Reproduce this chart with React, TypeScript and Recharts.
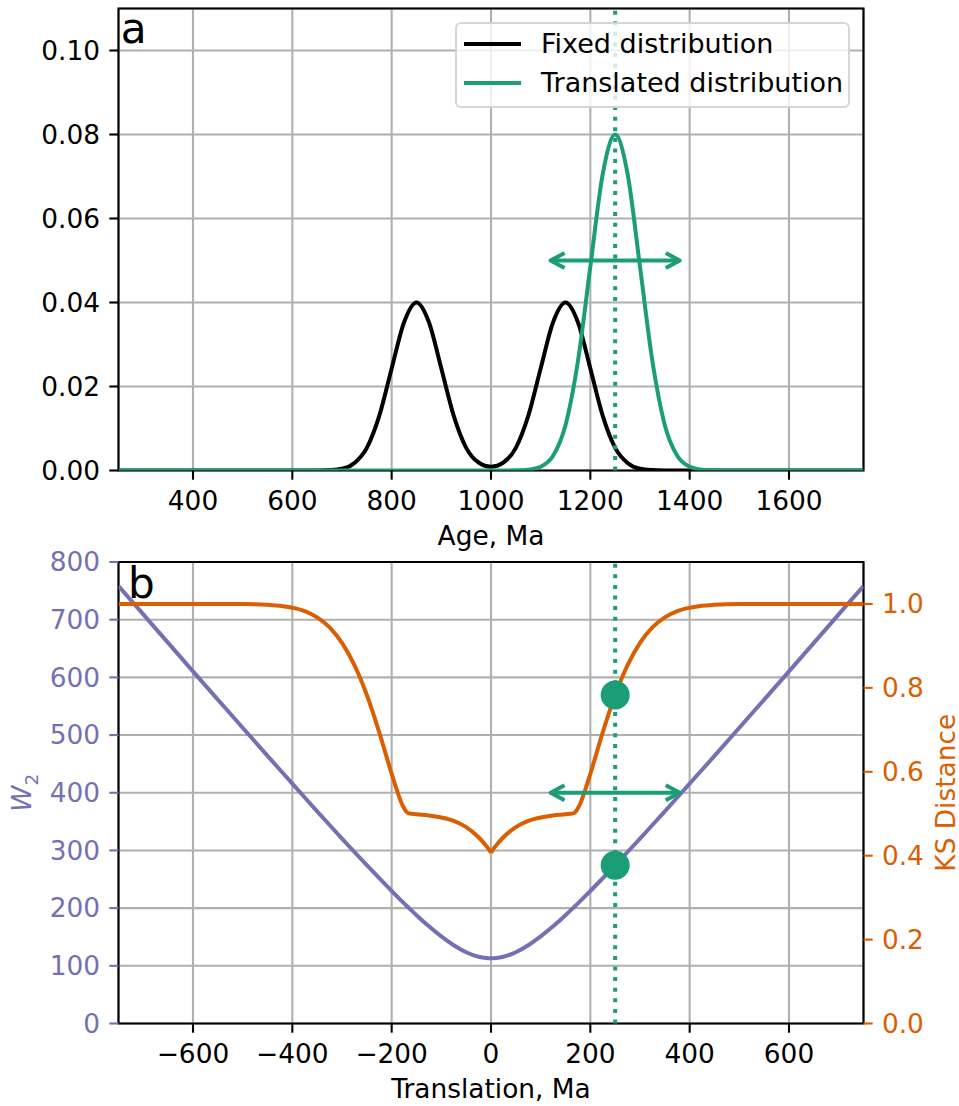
import React from 'react';
import {
  ComposedChart,
  Line,
  XAxis,
  YAxis,
  CartesianGrid,
  ReferenceLine,
  ReferenceArea,
  Legend,
  Scatter,
  Label,
} from 'recharts';

const FONT = 'DejaVu Sans';
const GREEN = '#1b9e77';
const ORANGE = '#d95f02';
const PURPLE = '#7570b3';
const GRID = '#b0b0b0';
const FS = 26.4;

// ---------- panel a : age distributions ----------
const ages = [
  250, 600, 625, 650, 675, 700, 725, 750, 775, 800, 825, 850, 875, 900, 925, 950, 975, 1000,
  1025, 1050, 1075, 1100, 1125, 1150, 1175, 1200, 1225, 1250, 1275, 1300, 1325, 1350, 1375,
  1400, 1425, 1450, 1475, 1500, 1750,
];
const fixedDensity = [
  0, 0, 0, 0.00001, 0.0001, 0.0004, 0.0018, 0.0054, 0.013, 0.0243, 0.0353, 0.04, 0.0353, 0.0243,
  0.013, 0.0054, 0.0019, 0.0009, 0.0019, 0.0054, 0.013, 0.0243, 0.0353, 0.04, 0.0353, 0.0243,
  0.013, 0.0054, 0.0018, 0.0004, 0.0001, 0.00001, 0, 0, 0, 0, 0, 0, 0,
];
const translatedDensity = [
  0, 0, 0, 0, 0, 0, 0, 0, 0, 0, 0, 0, 0, 0, 0, 0, 0, 0, 0, 0.00003, 0.0002, 0.0009, 0.0035,
  0.0108, 0.026, 0.0485, 0.0706, 0.08, 0.0706, 0.0485, 0.026, 0.0108, 0.0035, 0.0009, 0.0002,
  0.00003, 0, 0, 0,
];
const ageDomain = [250, 1750];
const ageTicks = [400, 600, 800, 1000, 1200, 1400, 1600];
const densityDomain = [0, 0.11];
const densityTicks = [0, 0.02, 0.04, 0.06, 0.08, 0.1];
const translatedPeak = 1250;
const arrowAges = [1120, 1380];
const arrowDensity = 0.05;

// ---------- panel b : distances vs translation ----------
const translations = [
  -750, -700, -650, -600, -550, -500, -450, -425, -400, -375, -350, -325, -300, -275, -250, -225,
  -200, -190, -180, -175, -170, -165, -150, -125, -100, -75, -50, -25, -10, -5, 0, 5, 10, 25, 50,
  75, 100, 125, 150, 165, 170, 175, 180, 190, 200, 225, 250, 275, 300, 325, 350, 375, 400, 425,
  450, 500, 550, 600, 650, 700, 750,
];
const w2Values = [
  758.5, 709.1, 659.7, 610.5, 561.5, 512.6, 464.0, 439.8, 415.7, 391.7, 367.8, 344.1, 320.6,
  297.3, 274.4, 251.8, 229.7, 221.1, 212.5, 208.3, 204.1, 200.0, 187.8, 168.5, 150.9, 135.6,
  123.6, 115.7, 113.4, 113.1, 113.0, 113.1, 113.4, 115.7, 123.6, 135.6, 150.9, 168.5, 187.8,
  200.0, 204.1, 208.3, 212.5, 221.1, 229.7, 251.8, 274.4, 297.3, 320.6, 344.1, 367.8, 391.7,
  415.7, 439.8, 464.0, 512.6, 561.5, 610.5, 659.7, 709.1, 758.5,
];
const ksValues = [
  1.0, 1.0, 1.0, 1.0, 1.0, 0.9999, 0.998, 0.9958, 0.991, 0.983, 0.968, 0.944, 0.907, 0.854,
  0.783, 0.694, 0.595, 0.558, 0.525, 0.513, 0.5046, 0.5008, 0.4987, 0.496, 0.491, 0.483, 0.468,
  0.444, 0.424, 0.416, 0.407, 0.416, 0.424, 0.444, 0.468, 0.483, 0.491, 0.496, 0.4987, 0.5008,
  0.5046, 0.513, 0.525, 0.558, 0.595, 0.694, 0.783, 0.854, 0.907, 0.944, 0.968, 0.983, 0.991,
  0.9958, 0.998, 0.9999, 1.0, 1.0, 1.0, 1.0, 1.0,
];
const translationDomain = [-750, 750];
const translationTicks = [-600, -400, -200, 0, 200, 400, 600];
const w2Domain = [0, 800];
const w2Ticks = [0, 100, 200, 300, 400, 500, 600, 700, 800];
const ksDomain = [0, 1.1];
const ksTicks = [0, 0.2, 0.4, 0.6, 0.8, 1.0];
const chosenTranslation = 250;
const chosenW2 = 274.4;
const chosenKS = 0.783;
const arrowTranslations = [120, 380];
const arrowW2 = 400;

// ---------- rows built from the arrays ----------
const densityRows = ages.map((age, i) => ({
  age,
  fixed: fixedDensity[i],
  translated: translatedDensity[i],
}));
const arrowRowsA = arrowAges.map((age) => ({ age, arrow: arrowDensity }));

const distanceRows = translations.map((t, i) => ({
  t,
  w2: w2Values[i],
  ksLeft: t <= 0 ? ksValues[i] : null,
  ksRight: t >= 0 ? ksValues[i] : null,
}));
const arrowRowsB = arrowTranslations.map((t) => ({ t, arrow: arrowW2 }));
const w2MarkerRows = [{ t: chosenTranslation, w2: chosenW2 }];
const ksMarkerRows = [{ t: chosenTranslation, ks: chosenKS }];

const minus = (v: number) => (v < 0 ? '\u2212' + Math.abs(v) : String(v));

const ArrowHead = (props: any) => {
  const { cx, cy, index } = props;
  if (cx == null || cy == null) return <g key={index} />;
  const dir = index === 0 ? 1 : -1;
  return (
    <path
      key={index}
      d={`M${cx + dir * 14},${cy - 7.5} L${cx},${cy} L${cx + dir * 14},${cy + 7.5}`}
      fill="none"
      stroke={GREEN}
      strokeWidth={4}
      strokeLinejoin="round"
      strokeLinecap="butt"
    />
  );
};

const BigDot = (props: any) => {
  const { cx, cy } = props;
  return <circle cx={cx} cy={cy} r={14.5} fill={GREEN} />;
};

const LegendBox = () => (
  <div
    style={{
      position: 'relative',
      boxSizing: 'border-box',
      width: 395,
      height: 86,
      border: '2px solid rgba(204,204,204,0.8)',
      borderRadius: 6,
      background: 'rgba(255,255,255,0.8)',
      fontFamily: FONT,
      fontSize: 27,
      color: '#000',
    }}
  >
    {[
      { name: 'Fixed distribution', color: '#000', cy: 20 },
      { name: 'Translated distribution', color: GREEN, cy: 59 },
    ].map((r) => (
      <div key={r.name}>
        <div
          style={{
            position: 'absolute',
            left: 7,
            top: r.cy - 2,
            width: 57,
            height: 4,
            background: r.color,
          }}
        />
        <div
          style={{
            position: 'absolute',
            left: 84,
            top: r.cy - 16,
            height: 32,
            lineHeight: '32px',
            whiteSpace: 'nowrap',
          }}
        >
          {r.name}
        </div>
      </div>
    ))}
  </div>
);

const PanelLabel = (text: string, dx: number, dy: number) => (props: any) => {
  const vb = props.viewBox || { x: 118.5, y: 8.5 };
  return (
    <text x={vb.x + dx} y={vb.y + dy} fontSize={42.2} fill="#000" fontFamily={FONT}>
      {text}
    </text>
  );
};

const W2Label = (props: any) => {
  const vb = props.viewBox || { x: 0, y: 17, width: 118.5, height: 461.5 };
  const cx = vb.x + 31;
  const cy = vb.y + vb.height / 2;
  return (
    <text
      x={cx}
      y={cy}
      transform={`rotate(-90 ${cx} ${cy})`}
      textAnchor="middle"
      fill={PURPLE}
      fontFamily={FONT}
      fontSize={FS}
    >
      <tspan fontStyle="italic">W</tspan>
      <tspan fontSize={18.5} dy={7}>
        2
      </tspan>
    </text>
  );
};

const KSLabel = (props: any) => {
  const vb = props.viewBox || { x: 863.5, y: 17, width: 95.5, height: 461.5 };
  const cx = vb.x + 91;
  const cy = vb.y + vb.height / 2;
  return (
    <text
      x={cx}
      y={cy}
      transform={`rotate(-90 ${cx} ${cy})`}
      textAnchor="middle"
      fill={ORANGE}
      fontFamily={FONT}
      fontSize={FS}
    >
      KS Distance
    </text>
  );
};

export default function App() {
  return (
    <div
      style={{
        position: 'absolute',
        left: 0,
        top: 0,
        width: 959,
        height: 1106,
        background: '#fff',
        fontFamily: FONT,
      }}
    >
      <div style={{ position: 'absolute', left: 0, top: 0 }}>
        <ComposedChart
          width={959}
          height={560}
          data={densityRows}
          margin={{ top: 8.5, right: 95.5, bottom: 0, left: 0 }}
        >
          <CartesianGrid stroke={GRID} strokeWidth={2.1} />
          <XAxis
            dataKey="age"
            type="number"
            domain={ageDomain}
            ticks={ageTicks}
            interval={0}
            allowDataOverflow
            height={89.5}
            axisLine={false}
            tickSize={9.2}
            tickMargin={12}
            tickLine={{ stroke: '#000', strokeWidth: 2.1 }}
            tick={{ fill: '#000', fontSize: FS }}
          >
            <Label value="Age, Ma" position="insideBottom" offset={15.5} fill="#000" fontSize={FS} />
          </XAxis>
          <YAxis
            type="number"
            domain={densityDomain}
            ticks={densityTicks}
            interval={0}
            allowDataOverflow
            width={118.5}
            axisLine={false}
            tickSize={9.2}
            tickMargin={9.2}
            tickLine={{ stroke: '#000', strokeWidth: 2.1 }}
            tick={{ fill: '#000', fontSize: FS }}
            tickFormatter={(v: number) => v.toFixed(2)}
          />
          <Line
            dataKey="fixed"
            type="monotone"
            stroke="#000"
            strokeWidth={4}
            dot={false}
            activeDot={false}
            isAnimationActive={false}
          />
          <Line
            dataKey="translated"
            type="monotone"
            stroke={GREEN}
            strokeWidth={4}
            dot={false}
            activeDot={false}
            isAnimationActive={false}
          />
          <ReferenceLine x={translatedPeak} stroke={GREEN} strokeWidth={4} strokeDasharray="4 6.6" />
          <Line
            data={arrowRowsA}
            dataKey="arrow"
            type="linear"
            stroke={GREEN}
            strokeWidth={4}
            dot={ArrowHead}
            activeDot={false}
            isAnimationActive={false}
          />
          <ReferenceArea
            x1={ageDomain[0]}
            x2={ageDomain[1]}
            y1={densityDomain[0]}
            y2={densityDomain[1]}
            fill="none"
            fillOpacity={0}
            stroke="#000"
            strokeWidth={2.1}
            label={PanelLabel('a', 2.3, 34.2)}
          />
          <Legend
            layout="horizontal"
            verticalAlign="middle"
            align="center"
            content={() => <LegendBox />}
            wrapperStyle={{ position: 'absolute', left: 455, top: 22, width: 395, height: 86 }}
          />
        </ComposedChart>
      </div>

      <div style={{ position: 'absolute', left: 0, top: 545 }}>
        <ComposedChart
          width={959}
          height={561}
          data={distanceRows}
          margin={{ top: 17, right: 0, bottom: 0, left: 0 }}
        >
          <CartesianGrid stroke={GRID} strokeWidth={2.1} yAxisId="left" />
          <XAxis
            dataKey="t"
            type="number"
            domain={translationDomain}
            ticks={translationTicks}
            interval={0}
            allowDataOverflow
            height={82.5}
            axisLine={false}
            tickSize={9.2}
            tickMargin={12}
            tickLine={{ stroke: '#000', strokeWidth: 2.1 }}
            tick={{ fill: '#000', fontSize: FS }}
            tickFormatter={minus}
          >
            <Label
              value="Translation, Ma"
              position="insideBottom"
              offset={7.7}
              fill="#000"
              fontSize={FS}
            />
          </XAxis>
          <YAxis
            yAxisId="left"
            type="number"
            domain={w2Domain}
            ticks={w2Ticks}
            interval={0}
            allowDataOverflow
            width={118.5}
            axisLine={false}
            tickSize={9.2}
            tickMargin={9.2}
            tickLine={{ stroke: PURPLE, strokeWidth: 2.1 }}
            tick={{ fill: PURPLE, fontSize: FS }}
          >
            <Label content={W2Label} />
          </YAxis>
          <YAxis
            yAxisId="right"
            orientation="right"
            type="number"
            domain={ksDomain}
            ticks={ksTicks}
            interval={0}
            allowDataOverflow
            width={95.5}
            axisLine={false}
            tickSize={9.2}
            tickMargin={9.2}
            tickLine={{ stroke: ORANGE, strokeWidth: 2.1 }}
            tick={{ fill: ORANGE, fontSize: FS }}
            tickFormatter={(v: number) => v.toFixed(1)}
          >
            <Label content={KSLabel} />
          </YAxis>
          <Scatter
            yAxisId="left"
            data={w2MarkerRows}
            dataKey="w2"
            shape={BigDot}
            isAnimationActive={false}
          />
          <Scatter
            yAxisId="right"
            data={ksMarkerRows}
            dataKey="ks"
            shape={BigDot}
            isAnimationActive={false}
          />
          <Line
            yAxisId="left"
            dataKey="w2"
            type="monotone"
            stroke={PURPLE}
            strokeWidth={4}
            dot={false}
            activeDot={false}
            isAnimationActive={false}
          />
          <Line
            yAxisId="right"
            dataKey="ksLeft"
            type="monotone"
            stroke={ORANGE}
            strokeWidth={4}
            dot={false}
            activeDot={false}
            isAnimationActive={false}
          />
          <Line
            yAxisId="right"
            dataKey="ksRight"
            type="monotone"
            stroke={ORANGE}
            strokeWidth={4}
            dot={false}
            activeDot={false}
            isAnimationActive={false}
          />
          <ReferenceLine
            yAxisId="left"
            x={chosenTranslation}
            stroke={GREEN}
            strokeWidth={4}
            strokeDasharray="4 6.6"
          />
          <Line
            yAxisId="left"
            data={arrowRowsB}
            dataKey="arrow"
            type="linear"
            stroke={GREEN}
            strokeWidth={4}
            dot={ArrowHead}
            activeDot={false}
            isAnimationActive={false}
          />
          <ReferenceArea
            yAxisId="left"
            x1={translationDomain[0]}
            x2={translationDomain[1]}
            y1={w2Domain[0]}
            y2={w2Domain[1]}
            fill="none"
            fillOpacity={0}
            stroke="#000"
            strokeWidth={2.1}
            label={PanelLabel('b', 9.4, 36.3)}
          />
        </ComposedChart>
      </div>
    </div>
  );
}
